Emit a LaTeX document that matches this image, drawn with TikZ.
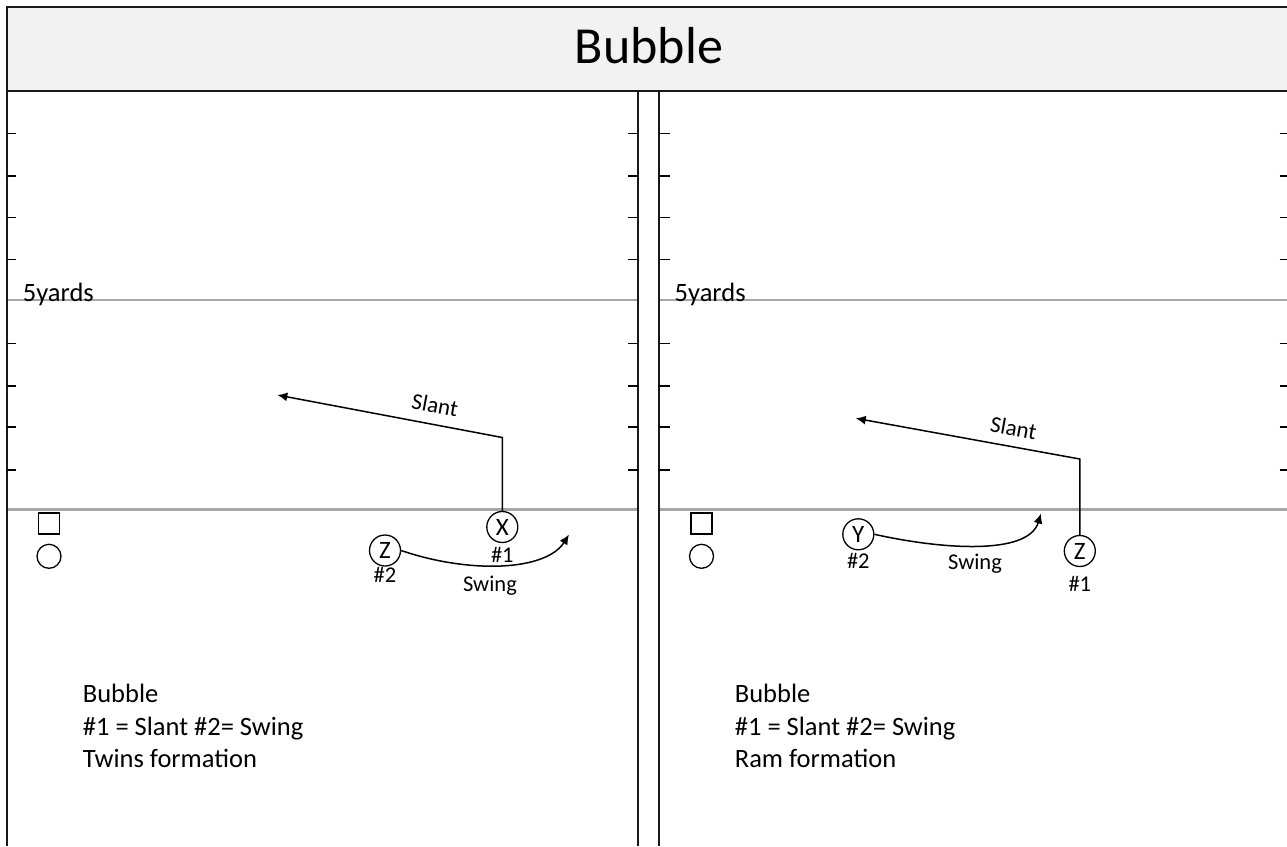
\documentclass[tikz,border=0pt]{standalone}
\usepackage{fontspec}
\setmainfont{Carlito}
\usetikzlibrary{arrows.meta}
\definecolor{hdr}{HTML}{F2F2F2}
\definecolor{yardline}{HTML}{A6A6A6}
\begin{document}
\begin{tikzpicture}[x=1pt,y=-1pt,
  frame/.style={line width=2pt,draw=black!90},
  tickmark/.style={line width=1.6pt,draw=black},
  yard/.style={line width=2.4pt,draw=yardline},
  route/.style={line width=1.5pt,draw=black,-{Latex[length=10pt,width=9pt]}},
  player/.style={circle,draw=black,line width=1.3pt,fill=white,minimum size=31pt,inner sep=0pt,font=\fontsize{25}{30}\selectfont},
  lineman/.style={draw=black,line width=1.3pt,fill=white,minimum size=21pt,inner sep=0pt},
  qb/.style={circle,draw=black,line width=1.3pt,fill=white,minimum size=24pt,inner sep=0pt},
  body/.style={anchor=base west,inner sep=0pt,font=\fontsize{26.5}{32}\selectfont},
  small/.style={anchor=base,inner sep=0pt,font=\fontsize{22.5}{27}\selectfont},
  routelabel/.style={inner sep=0pt,font=\fontsize{23}{27}\selectfont}
]
\useasboundingbox (0,0) rectangle (1287,846);
\fill[white] (0,0) rectangle (1287,846);
% header
\fill[hdr] (7,7) rectangle (1287,91);
\draw[frame] (1287,7) -- (7,7) -- (7,91) -- (1287,91);
\node[anchor=base,inner sep=0pt,font=\fontsize{52}{62}\selectfont] (title) at (649,63) {Bubble};
% yard lines
\draw[yard] (7,300) -- (637.7,300);
\draw[yard] (7,509.5) -- (637.7,509.5);
\draw[yard] (659,300) -- (1287,300);
\draw[yard] (659,509.5) -- (1287,509.5);
% panel borders
\draw[frame] (7,91) -- (7,846);
\draw[frame] (637.7,91) -- (637.7,846);
\draw[frame] (659,91) -- (659,846);
% ticks
\foreach \y in {133.3,175.7,217.3,259.3,343.3,386,427,470} {
  \draw[tickmark] (7,\y) -- (16,\y);
  \draw[tickmark] (628,\y) -- (637.7,\y);
  \draw[tickmark] (659,\y) -- (669.5,\y);
  \draw[tickmark] (1279.5,\y) -- (1287,\y);
}
% 5 yards labels
\node[body] (fivel) at (22.7,301) {5yards};
\node[body] (fiver) at (674.5,301) {5yards};

% ---------------- left panel ----------------
\node[lineman] (cl) at (49,523.5) {};
\node[qb] (ql) at (49,556.3) {};
\node[player] (xl) at (502.3,527) {X};
\node[player] (zl) at (385,550.5) {Z};
\node[small] (xlnum) at (502.3,562) {\#1};
\node[small] (zlnum) at (385,582) {\#2};
\coordinate (xlc) at (502.3,437.5);
\coordinate (xlt) at (277.3,395);
\draw[route] (xl.north) -- (xlc) -- (xlt);
\node[routelabel,rotate=-10.7] (slantl) at (435,405) {Slant};
\coordinate (zlt) at (569,534.5);
\draw[route] (zl.east) .. controls (470,574) and (546,571) .. (zlt);
\node[small] (swingl) at (490,591) {Swing};
\node[body] (tl1) at (82.7,702) {Bubble};
\node[body] (tl2) at (82.7,735) {\#1 = Slant \#2= Swing};
\node[body] (tl3) at (82.7,767.5) {Twins formation};

% ---------------- right panel ----------------
\node[lineman] (cr) at (701.5,523.5) {};
\node[qb] (qr) at (701.5,556.3) {};
\node[player] (yr) at (858.3,534.3) {Y};
\node[player] (zr) at (1079.8,551) {Z};
\node[small] (yrnum) at (858.3,568) {\#2};
\node[small] (zrnum) at (1079.8,591) {\#1};
\coordinate (zrc) at (1079.8,459);
\coordinate (zrt) at (855.7,418.3);
\draw[route] (zr.north) -- (zrc) -- (zrt);
\node[routelabel,rotate=-10.4] (slantr) at (1013.5,428) {Slant};
\coordinate (yrt) at (1041,513.5);
\draw[route] (yr.east) .. controls (940,549) and (1028,556) .. (yrt);
\node[small] (swingr) at (975,569) {Swing};
\node[body] (tr1) at (734.7,702) {Bubble};
\node[body] (tr2) at (734.7,735) {\#1 = Slant \#2= Swing};
\node[body] (tr3) at (734.7,767.5) {Ram formation};
\end{tikzpicture}
\end{document}
